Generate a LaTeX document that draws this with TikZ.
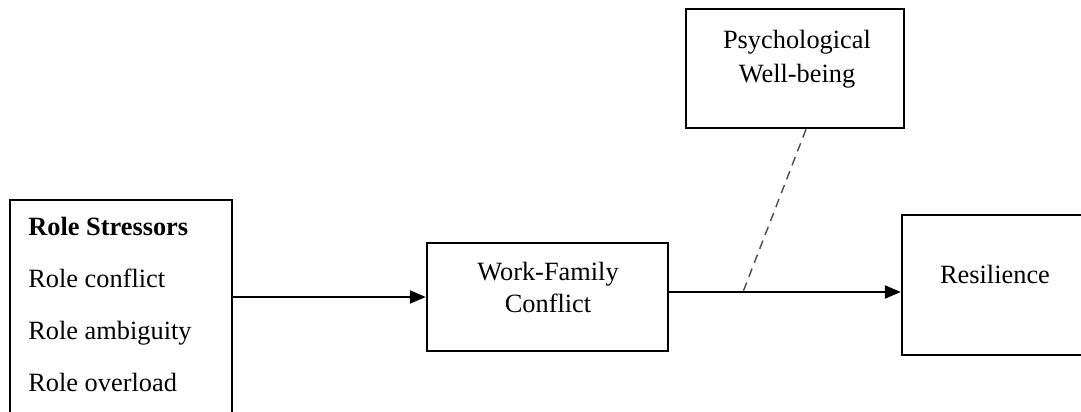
\documentclass[tikz,border=0pt]{standalone}
\usepackage{fontspec}
\setmainfont{Liberation Serif}
\usepackage{tikz}
\usetikzlibrary{arrows.meta,calc}

\begin{document}
\begin{tikzpicture}[x=0.02cm,y=-0.02cm,
    box/.style={draw, line width=1.5pt, rectangle, inner sep=0pt},
    txt/.style={font=\fontsize{15}{18}\selectfont, inner sep=0pt},
    link/.style={line width=0.8pt, -{Triangle[length=9pt,width=7.5pt]}},
    moder/.style={draw=black!70, line width=0.8pt, dash pattern=on 5pt off 3.5pt}]
\path[use as bounding box, clip] (0,0) rectangle (1081,412);
% boxes
\node[box, minimum width=4.44cm, minimum height=4.8cm] (stress) at (121,320) {};
\node[box, minimum width=4.82cm, minimum height=2.16cm] (wfc) at (547.5,297) {};
\node[box, minimum width=4.36cm, minimum height=2.38cm] (pwb) at (795,68.5) {};
\node[box, minimum width=3.80cm, minimum height=2.8cm] (res) at (997,285) {};
% texts
\node[txt, anchor=base west] (rs) at (28,235) {\textbf{Role Stressors}};
\node[txt, anchor=base west] (rc) at (28,287) {Role conflict};
\node[txt, anchor=base west] (ra) at (28,339) {Role ambiguity};
\node[txt, anchor=base west] (ro) at (28,391) {Role overload};
\node[txt, anchor=base] (wfc1) at (548,280) {Work-Family};
\node[txt, anchor=base] (wfc2) at (548,312) {Conflict};
\node[txt, anchor=base] (pwb1) at (797,49) {Psychological};
\node[txt, anchor=base] (pwb2) at (797,83) {Well-being};
\node[txt, anchor=base] (res1) at (995,283) {Resilience};
% paths
\coordinate (mid) at (743,292);
\draw[link] (stress.east |- wfc.west) -- (wfc.west);
\draw[link] (wfc.east |- mid) -- (res.west |- mid);
\draw[moder] ($(pwb.south)+(11,0)$) -- (mid);
\end{tikzpicture}
\end{document}
